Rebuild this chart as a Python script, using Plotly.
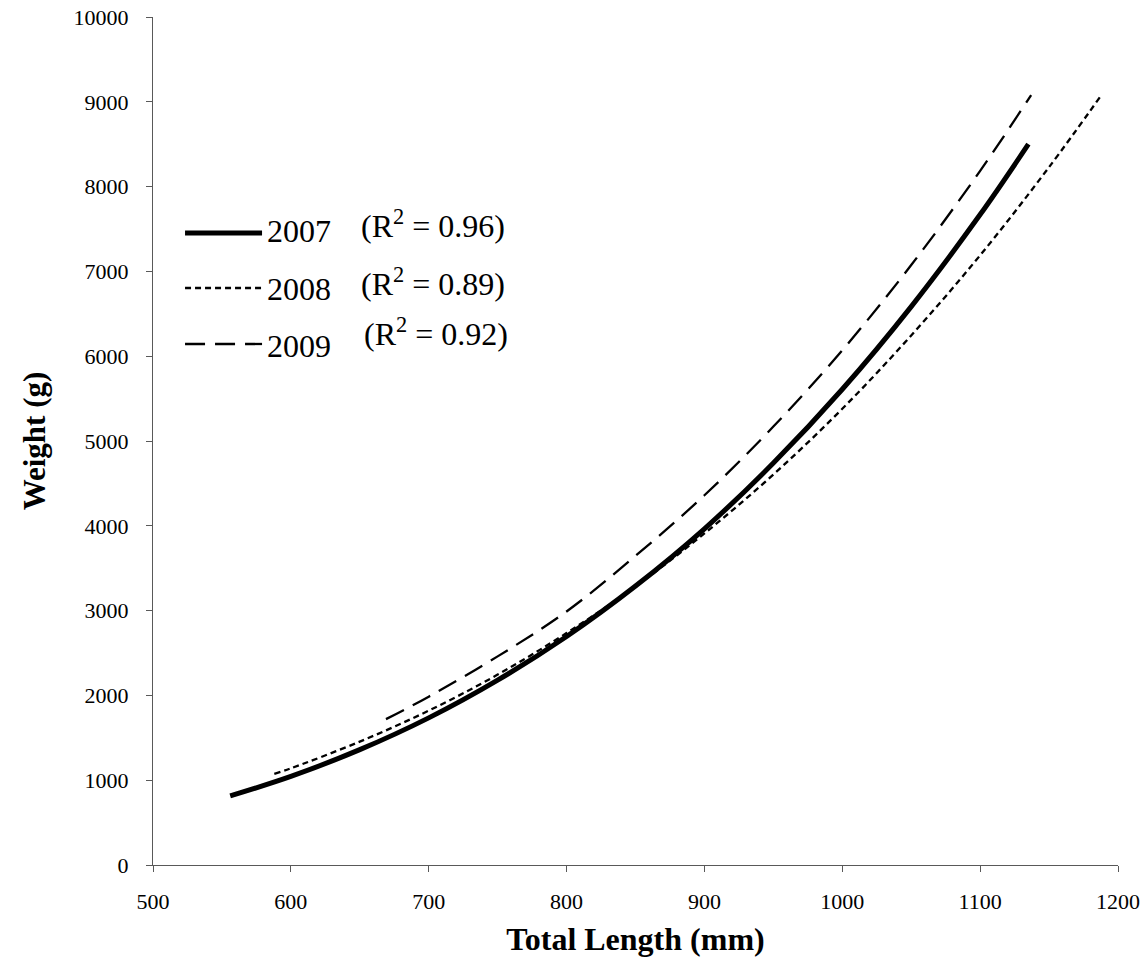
import plotly.graph_objects as go

# ---- data ----
L2007 = [556, 600, 650, 700, 750, 800, 850, 900, 950, 1000, 1050, 1100, 1135]
W2007 = [815, 1045, 1360, 1735, 2180, 2695, 3290, 3965, 4740, 5610, 6585, 7670, 8500]

L2008 = [588, 600, 650, 700, 750, 800, 850, 900, 950, 1000, 1050, 1100, 1150, 1188]
W2008 = [1075, 1140, 1455, 1820, 2245, 2735, 3285, 3910, 4605, 5380, 6245, 7190, 8230, 9080]

L2009 = [669, 700, 750, 800, 850, 900, 950, 1000, 1050, 1100, 1137]
W2009 = [1720, 1985, 2460, 2990, 3645, 4360, 5170, 6070, 7075, 8185, 9080]

years = ["2007", "2008", "2009"]
r2_labels = ["(R<sup>2</sup> = 0.96)", "(R<sup>2</sup> = 0.89)", "(R<sup>2</sup> = 0.92)"]

x_ticks = [500, 600, 700, 800, 900, 1000, 1100, 1200]
y_ticks = [0, 1000, 2000, 3000, 4000, 5000, 6000, 7000, 8000, 9000, 10000]

FONT = "Liberation Serif, Times New Roman, serif"
styles = [
    dict(width=5, dash="solid"),
    dict(width=2.3, dash="6px,4px"),
    dict(width=2.3, dash="20px,10px"),
]

fig = go.Figure()
for name, xs, ys, st in zip(years, [L2007, L2008, L2009], [W2007, W2008, W2009], styles):
    fig.add_trace(go.Scatter(
        x=xs, y=ys, mode="lines", name=name, showlegend=False,
        line=dict(color="black", width=st["width"], dash=st["dash"], shape="spline", smoothing=1.0),
    ))

# manual legend (samples + labels) inside plot area
leg_y_line = [0.7453, 0.6804, 0.6144]
leg_y_text = [0.7475, 0.6790, 0.6118]
r2_y = [0.7560, 0.6875, 0.6285]
r2_x = [0.2135, 0.2135, 0.2166]
for i, (name, st) in enumerate(zip(years, styles)):
    fig.add_shape(type="line", xref="paper", yref="paper",
                  x0=0.0332, x1=0.1130, y0=leg_y_line[i], y1=leg_y_line[i],
                  line=dict(color="black", width=st["width"], dash=st["dash"]))
    fig.add_annotation(xref="paper", yref="paper", x=0.1160, y=leg_y_text[i],
                       text=name, showarrow=False, xanchor="left", yanchor="middle",
                       font=dict(family=FONT, size=32, color="black"))
    fig.add_annotation(xref="paper", yref="paper", x=r2_x[i], y=r2_y[i],
                       text=r2_labels[i], showarrow=False, xanchor="left", yanchor="middle",
                       font=dict(family=FONT, size=32, color="black"))

axis_color = "#595959"
fig.update_layout(
    width=1142, height=962,
    margin=dict(l=153, r=24, t=17, b=97),
    paper_bgcolor="white", plot_bgcolor="white",
    font=dict(family=FONT, color="black"),
    xaxis=dict(
        range=[500, 1200], tickvals=x_ticks, ticktext=[str(v) for v in x_ticks],
        showgrid=False, zeroline=False, showline=True, linecolor=axis_color, linewidth=1,
        ticks="outside", ticklen=6, tickcolor=axis_color, tickwidth=1,
        tickfont=dict(family=FONT, size=22, color="black"), ticklabelstandoff=11,
        title=dict(text="<b>Total Length (mm)</b>", font=dict(family=FONT, size=32, color="black"), standoff=14),
        automargin=False,
    ),
    yaxis=dict(
        range=[0, 10000], tickvals=y_ticks, ticktext=[str(v) for v in y_ticks],
        showgrid=False, zeroline=False, showline=True, linecolor=axis_color, linewidth=1,
        ticks="outside", ticklen=6, tickcolor=axis_color, tickwidth=1,
        tickfont=dict(family=FONT, size=22, color="black"), ticklabelstandoff=13,
        title=dict(text="<b>Weight (g)</b>", font=dict(family=FONT, size=31, color="black"), standoff=18),
        automargin=False,
    ),
)

fig.write_html("out.html")
